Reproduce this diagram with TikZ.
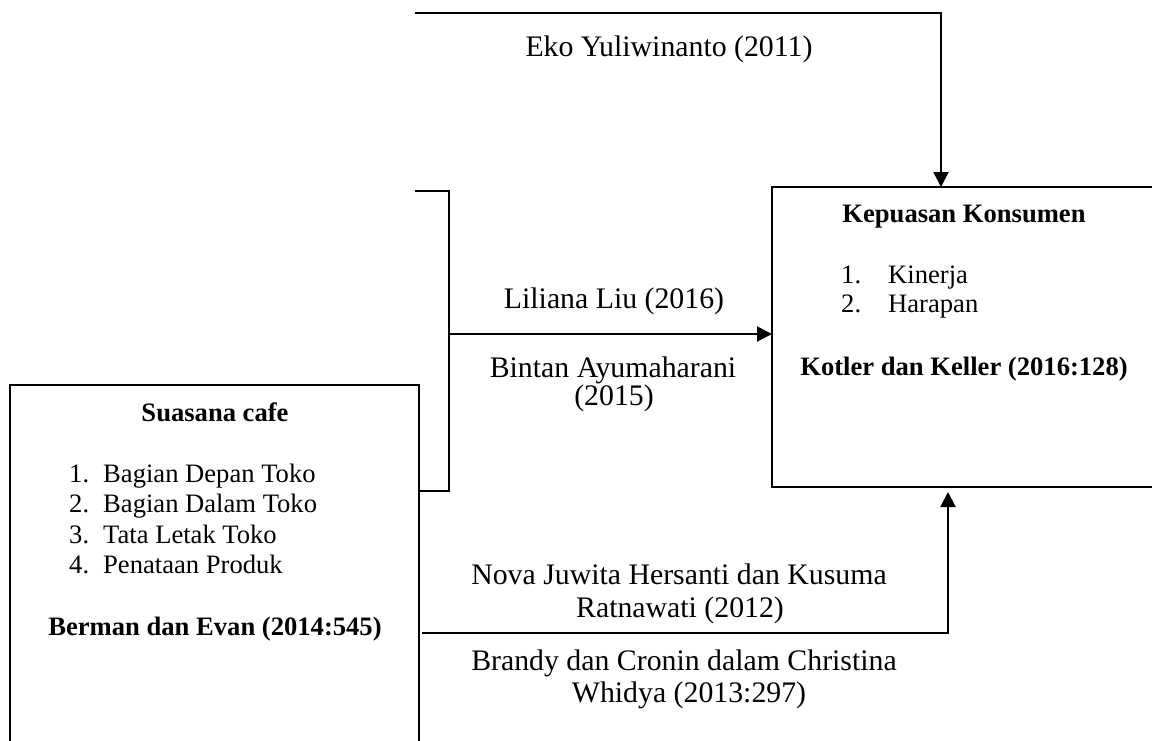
\documentclass[tikz,border=0pt]{standalone}
\usepackage{fontspec}
\setmainfont{Liberation Serif}
\usetikzlibrary{arrows.meta}
\tikzset{
  line/.style={line width=2pt, line cap=rect},
  arr/.style={line width=2pt, -{Triangle[length=15pt,width=15pt]}},
  box/.style={draw, line width=2pt, rectangle, inner sep=0pt, outer sep=0pt, anchor=north west},
  lbl/.style={inner sep=0pt, anchor=base, font=\fontsize{29.8}{33}\selectfont},
  btxt/.style={inner sep=0pt, anchor=base, font=\fontsize{26.6}{30}\selectfont},
  btxtw/.style={inner sep=0pt, anchor=base west, font=\fontsize{26.6}{30}\selectfont},
  bhead/.style={inner sep=0pt, anchor=base, font=\fontsize{26.6}{30}\selectfont\bfseries}
}
\begin{document}
\begin{tikzpicture}[x=1pt,y=-1pt]
\fill[white] (0,0) rectangle (1152,740);
\useasboundingbox (0,0) rectangle (1152,740);
\clip (0,0) rectangle (1152,740);

% boxes
\node[box, minimum width=409pt, minimum height=420pt] (sc) at (10,385) {};
\node[box, minimum width=440pt, minimum height=300pt] (kk) at (772,187) {};

% left box text
\node[bhead] (sct) at (215,421) {Suasana cafe};
\node[btxtw] (sn1) at (69,482) {1.};
\node[btxtw] (si1) at (103,482) {Bagian Depan Toko};
\node[btxtw] (sn2) at (69,512) {2.};
\node[btxtw] (si2) at (103,512) {Bagian Dalam Toko};
\node[btxtw] (sn3) at (69,543) {3.};
\node[btxtw] (si3) at (103,543) {Tata Letak Toko};
\node[btxtw] (sn4) at (69,573) {4.};
\node[btxtw] (si4) at (103,573) {Penataan Produk};
\node[bhead] (scs) at (215,635) {Berman dan Evan (2014:545)};

% right box text
\node[bhead] (kkt) at (964,222) {Kepuasan Konsumen};
\node[btxtw] (kn1) at (841,283) {1.};
\node[btxtw] (ki1) at (888,283) {Kinerja};
\node[btxtw] (kn2) at (841,312) {2.};
\node[btxtw] (ki2) at (888,312) {Harapan};
\node[bhead] (kks) at (964,375) {Kotler dan Keller (2016:128)};

% top connector
\coordinate (t1) at (415,13);
\draw[arr] (t1) -| ([xshift=169pt]kk.north west);
\node[lbl] (eko) at (669,56) {Eko Yuliwinanto (2011)};

% middle bracket and arrow
\coordinate (b1) at (416,191);
\coordinate (b2) at (449,491);
\coordinate (m1) at (449,334);
\draw[line] (b1) -| (b2) -- (b2 -| sc.east);
\draw[arr] (m1) -- (m1 -| kk.west);
\node[lbl] (lil) at (614,308) {Liliana Liu (2016)};
\node[lbl] (bin1) at (613,377) {Bintan Ayumaharani};
\node[lbl] (bin2) at (614,405) {(2015)};

% bottom connector
\coordinate (l1) at (422,633);
\draw[arr] (l1) -| ([xshift=176pt,yshift=-5pt]kk.south west);
\node[lbl] (nova1) at (679,584) {Nova Juwita Hersanti dan Kusuma};
\node[lbl] (nova2) at (680,617) {Ratnawati (2012)};
\node[lbl] (br1) at (684,670) {Brandy dan Cronin dalam Christina};
\node[lbl] (br2) at (689,702) {Whidya (2013:297)};
\end{tikzpicture}
\end{document}
